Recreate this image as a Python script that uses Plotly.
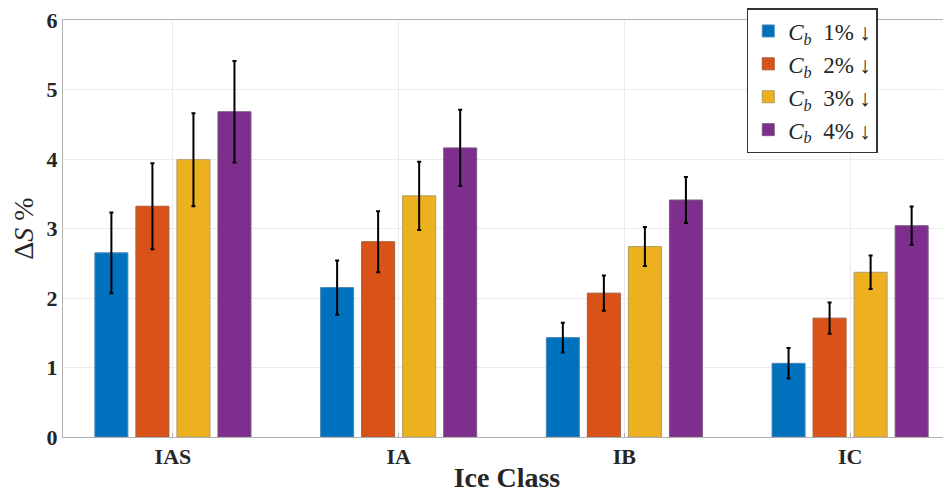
import plotly.graph_objects as go

categories = ["IAS", "IA", "IB", "IC"]
series_names = ["<i>C</i><sub><i>b</i></sub>  1% ↓", "<i>C</i><sub><i>b</i></sub>  2% ↓",
                "<i>C</i><sub><i>b</i></sub>  3% ↓", "<i>C</i><sub><i>b</i></sub>  4% ↓"]
cb1 = [2.65, 2.15, 1.43, 1.06]
cb2 = [3.32, 2.81, 2.07, 1.71]
cb3 = [3.99, 3.47, 2.74, 2.37]
cb4 = [4.68, 4.16, 3.41, 3.04]
err1 = [0.58, 0.39, 0.215, 0.22]
err2 = [0.62, 0.44, 0.255, 0.225]
err3 = [0.67, 0.49, 0.28, 0.24]
err4 = [0.73, 0.55, 0.33, 0.275]
colors = ["#0072BD", "#D95319", "#EDB120", "#7E2F8E"]
edges = ["#4a86b5", "#a85a38", "#b09a60", "#7a5a80"]
y_ticks = [0, 1, 2, 3, 4, 5, 6]

values = [cb1, cb2, cb3, cb4]
errors = [err1, err2, err3, err4]

fig = go.Figure()
for name, v, e, c, ec in zip(series_names, values, errors, colors, edges):
    fig.add_trace(go.Bar(
        x=categories, y=v, name=name,
        marker=dict(color=c, line=dict(color=ec, width=1)),
        error_y=dict(type="data", array=e, visible=True, color="black",
                     thickness=2, width=2),
    ))

serif = "Liberation Serif, Times New Roman, serif"
# the page body adds an 8px margin, so the figure is sized to fit the 951x501 window
fig.update_layout(
    width=943, height=485,
    margin=dict(l=55, r=0, t=10, b=56),
    plot_bgcolor="white", paper_bgcolor="white",
    barmode="group", bargap=0.273, bargroupgap=0.195,
    font=dict(family=serif, color="#262626"),
    legend=dict(
        x=0.770, y=1.03, xanchor="left", yanchor="top",
        bgcolor="white", bordercolor="#333333", borderwidth=1.5,
        font=dict(family=serif, size=23, color="#262626"),
        itemwidth=30, tracegroupgap=0,
    ),
    xaxis=dict(
        range=[-0.487, 3.447],
        showgrid=True, gridcolor="#ebebeb",
        showline=True, linecolor="#b0b0b0", linewidth=1, mirror=True,
        ticks="inside", ticklen=4, tickcolor="#b0b0b0",
        tickfont=dict(family=serif, size=22, color="#262626", weight="bold"),
        title=dict(text="<b>Ice Class</b>", font=dict(family=serif, size=28, color="#262626"),
                   standoff=2),
    ),
    yaxis=dict(
        range=[0, 6], tickvals=y_ticks,
        showgrid=True, gridcolor="#ebebeb", zeroline=False,
        showline=True, linecolor="#b0b0b0", linewidth=1, mirror=False,
        ticks="", ticklabeloverflow="allow",
        tickfont=dict(family=serif, size=22, color="#262626", weight="bold"),
        title=dict(text="Δ<i>S</i> %", font=dict(family=serif, size=28, color="#262626"),
                   standoff=10),
    ),
)

fig.write_html("out.html")
